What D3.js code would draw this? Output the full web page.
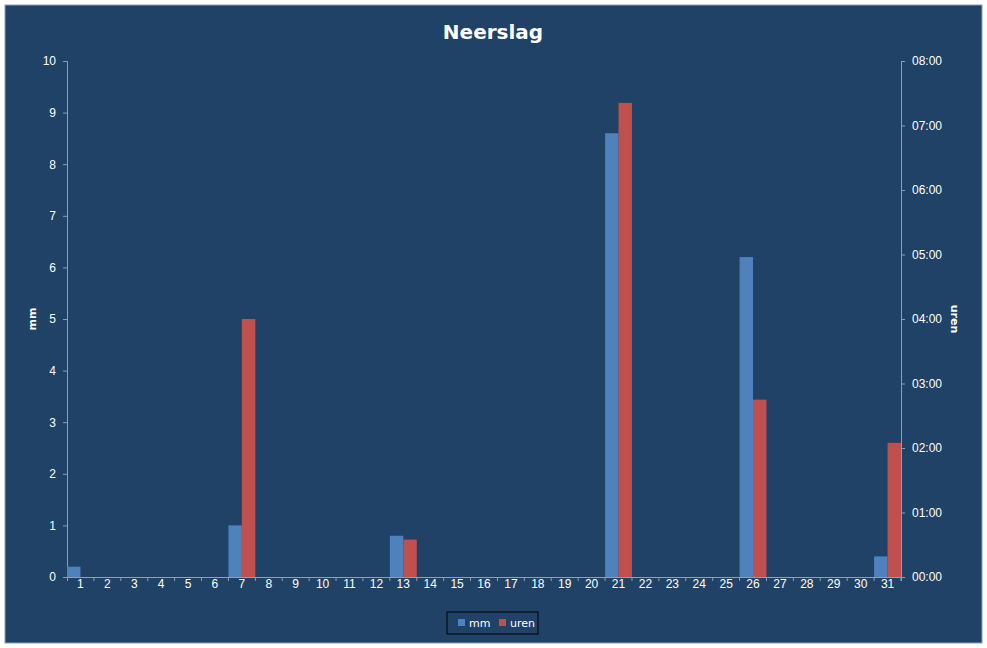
<!DOCTYPE html>
<html><head><meta charset="utf-8">
<script src="https://cdn.jsdelivr.net/npm/d3@7"></script>
<style>body{margin:0;background:#fff;}svg{font-family:"DejaVu Sans",Arial,sans-serif;}</style>
</head><body>
<svg id="c" width="987" height="648"></svg>
<script>
const days = d3.range(1,32).map(String);
const mm = [0.2,0,0,0,0,0,1.0,0,0,0,0,0,0.8,0,0,0,0,0,0,0,8.6,0,0,0,0,6.2,0,0,0,0,0.4];
// uren in hours
const uren = [0,0,0,0,0,0,4.0,0,0,0,0,0,0.58,0,0,0,0,0,0,0,7.35,0,0,0,0,2.75,0,0,0,0,2.08];
const leftTicks = d3.range(0,11);
const rightTicks = d3.range(0,9);

const svg = d3.select("#c");
svg.append("rect").attr("x",5).attr("y",5).attr("width",977).attr("height",638)
  .attr("fill","#1F4266").attr("stroke","#8aa0b8").attr("stroke-width",1);
const L=67,R=901,T=61,B=577;
const x = d3.scaleBand().domain(days).range([L,R]).padding(0);
const y = d3.scaleLinear().domain([0,10]).range([B,T]);
const y2 = d3.scaleLinear().domain([0,8]).range([B,T]);

svg.append("text").attr("x",493).attr("y",39).attr("text-anchor","middle")
  .attr("fill","#fff").attr("font-size",20).attr("font-weight","bold").text("Neerslag");

const gl = svg.append("g").attr("transform",`translate(${L},0)`)
  .call(d3.axisLeft(y).tickValues(leftTicks).tickSize(4).tickFormat(d3.format("d")));
const gr = svg.append("g").attr("transform",`translate(${R},0)`)
  .call(d3.axisRight(y2).tickValues(rightTicks).tickSize(4).tickFormat(d=>"0"+d+":00"));
const gb = svg.append("g").attr("transform",`translate(0,${B})`)
  .call(d3.axisBottom(x).tickSize(4));
[gl,gr,gb].forEach(g=>{g.selectAll("path,line").attr("stroke","#8aa0b8");
  g.selectAll("text").attr("fill","#fff").attr("font-size",12);});
gl.selectAll("text").attr("dx",-4);
gr.selectAll("text").attr("dx",4);
gb.selectAll("text").attr("dy",4);
gb.selectAll(".tick line").attr("transform",`translate(${x.bandwidth()/2},0)`);

const bw = x.bandwidth()/2;
svg.append("g").selectAll("rect").data(days).join("rect")
  .attr("x",d=>x(d)).attr("width",bw)
  .attr("y",(d,i)=>y(mm[i])).attr("height",(d,i)=>B-y(mm[i])).attr("fill","#4F81BD");
svg.append("g").selectAll("rect").data(days).join("rect")
  .attr("x",d=>x(d)+bw).attr("width",bw)
  .attr("y",(d,i)=>y2(uren[i])).attr("height",(d,i)=>B-y2(uren[i])).attr("fill","#C0504D");

svg.append("text").attr("transform","translate(36,319) rotate(-90)").attr("text-anchor","middle")
  .attr("fill","#fff").attr("font-size",11).attr("font-weight","bold").text("mm");
svg.append("text").attr("transform","translate(951,319) rotate(90)").attr("text-anchor","middle")
  .attr("fill","#fff").attr("font-size",11).attr("font-weight","bold").text("uren");

const lg = svg.append("g");
lg.append("rect").attr("x",447).attr("y",612).attr("width",91).attr("height",22)
  .attr("fill","none").attr("stroke","#000");
lg.append("rect").attr("x",458).attr("y",619).attr("width",7).attr("height",7).attr("fill","#4F81BD");
lg.append("text").attr("x",469).attr("y",627).attr("fill","#fff").attr("font-size",11).text("mm");
lg.append("rect").attr("x",499).attr("y",619).attr("width",7).attr("height",7).attr("fill","#C0504D");
lg.append("text").attr("x",510).attr("y",627).attr("fill","#fff").attr("font-size",11).text("uren");
</script>
</body></html>
